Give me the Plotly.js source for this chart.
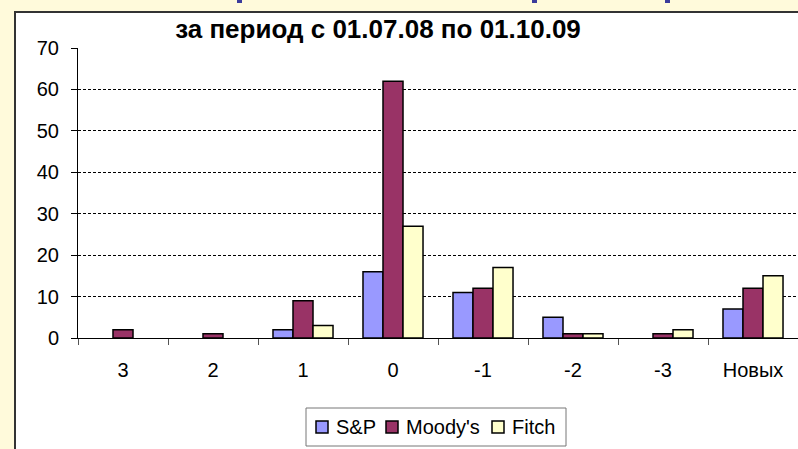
<!DOCTYPE html>
<html>
<head>
<meta charset="utf-8">
<script src="https://cdn.plot.ly/plotly-3.0.1.min.js"></script>
<style>
  html, body { margin:0; padding:0; width:798px; height:449px; overflow:hidden; background:#FFFADB; }
  #card { position:absolute; left:14px; top:11px; width:820px; height:460px; background:#fff;
          border-left:2px solid #333; border-top:2px solid #333; }
  .frag { position:absolute; top:0; height:3px; width:5px; background:#3b3b9c; }
  #chart { position:absolute; left:0; top:0; width:798px; height:449px; }
</style>
</head>
<body>
<div class="frag" style="left:237px"></div>
<div class="frag" style="left:532px"></div>
<div class="frag" style="left:665px"></div>
<div id="card"></div>
<div id="chart"></div>
<script>
const categories = ['3', '2', '1', '0', '-1', '-2', '-3', 'Новых'];
const spValues = [null, null, 2, 16, 11, 5, null, 7];
const moodysValues = [2, 1, 9, 62, 12, 1, 1, 12];
const fitchValues = [null, null, 3, 27, 17, 1, 2, 15];
const seriesNames = ['S&P', "Moody's", 'Fitch'];
const seriesColors = ['#9999FF', '#993366', '#FFFFCC'];
const yTicks = [0, 10, 20, 30, 40, 50, 60, 70];

const fontFamily = 'Arial, "Liberation Sans", sans-serif';
const values = [spValues, moodysValues, fitchValues];
const traces = values.map((v, i) => ({
  type: 'bar',
  name: seriesNames[i],
  x: categories,
  y: v,
  marker: { color: seriesColors[i], line: { color: '#000', width: 1.5 } },
  showlegend: false
}));

// plot area in pixels: x 78..798, y 48..338
const PX0 = 78, PW = 720, PY0 = 338, PH = 290;
const px = x => (x - PX0) / PW;
const py = y => (PY0 - y) / PH;

// custom legend (compact Excel-like spacing)
const legendSymbolX = [316, 386, 492];
const legendTextX = [335, 405, 511];
const legendMidY = 427;
const shapes = [{
  type: 'rect', xref: 'paper', yref: 'paper',
  x0: px(306), x1: px(566), y0: py(446), y1: py(408),
  fillcolor: '#fff', line: { color: '#777', width: 1 }
}];
const annotations = [];
seriesNames.forEach((name, i) => {
  shapes.push({
    type: 'rect', xref: 'paper', yref: 'paper',
    x0: px(legendSymbolX[i]), x1: px(legendSymbolX[i] + 12),
    y0: py(legendMidY + 6), y1: py(legendMidY - 6),
    fillcolor: seriesColors[i], line: { color: '#000', width: 1.5 }
  });
  annotations.push({
    xref: 'paper', yref: 'paper', x: px(legendTextX[i]), y: py(legendMidY),
    xanchor: 'left', yanchor: 'middle', showarrow: false, text: name,
    font: { family: fontFamily, size: 20, color: '#000' }, borderpad: 0
  });
});

const layout = {
  width: 798, height: 449,
  margin: { l: 78, r: 0, t: 48, b: 111, pad: 0 },
  paper_bgcolor: 'rgba(0,0,0,0)',
  plot_bgcolor: 'rgba(0,0,0,0)',
  font: { family: fontFamily, size: 20, color: '#000' },
  title: {
    text: '<b>за период с 01.07.08 по 01.10.09</b>',
    font: { family: fontFamily, size: 26, color: '#000' },
    x: 378 / 798, xanchor: 'center', xref: 'container',
    y: 1 - 29 / 449, yanchor: 'middle', yref: 'container'
  },
  barmode: 'group',
  bargap: 0.333,
  bargroupgap: 0,
  xaxis: {
    type: 'category',
    showline: true, linecolor: '#000', linewidth: 1,
    ticks: 'outside', tickson: 'boundaries', ticklen: 6, tickcolor: '#555', tickwidth: 1,
    ticklabelstandoff: 14,
    tickfont: { family: fontFamily, size: 20, color: '#000' },
    showgrid: false, zeroline: false, fixedrange: true
  },
  yaxis: {
    range: [0, 70],
    tickvals: yTicks,
    showline: true, linecolor: '#000', linewidth: 1,
    ticks: 'outside', ticklen: 6, tickcolor: '#000', tickwidth: 1,
    ticklabelstandoff: 8,
    tickfont: { family: fontFamily, size: 20, color: '#000' },
    showgrid: true, gridcolor: '#000', gridwidth: 1, griddash: '3px,2px',
    zeroline: false, fixedrange: true
  },
  showlegend: false,
  shapes: shapes,
  annotations: annotations
};

Plotly.newPlot('chart', traces, layout, { displayModeBar: false, staticPlot: true });
</script>
</body>
</html>
